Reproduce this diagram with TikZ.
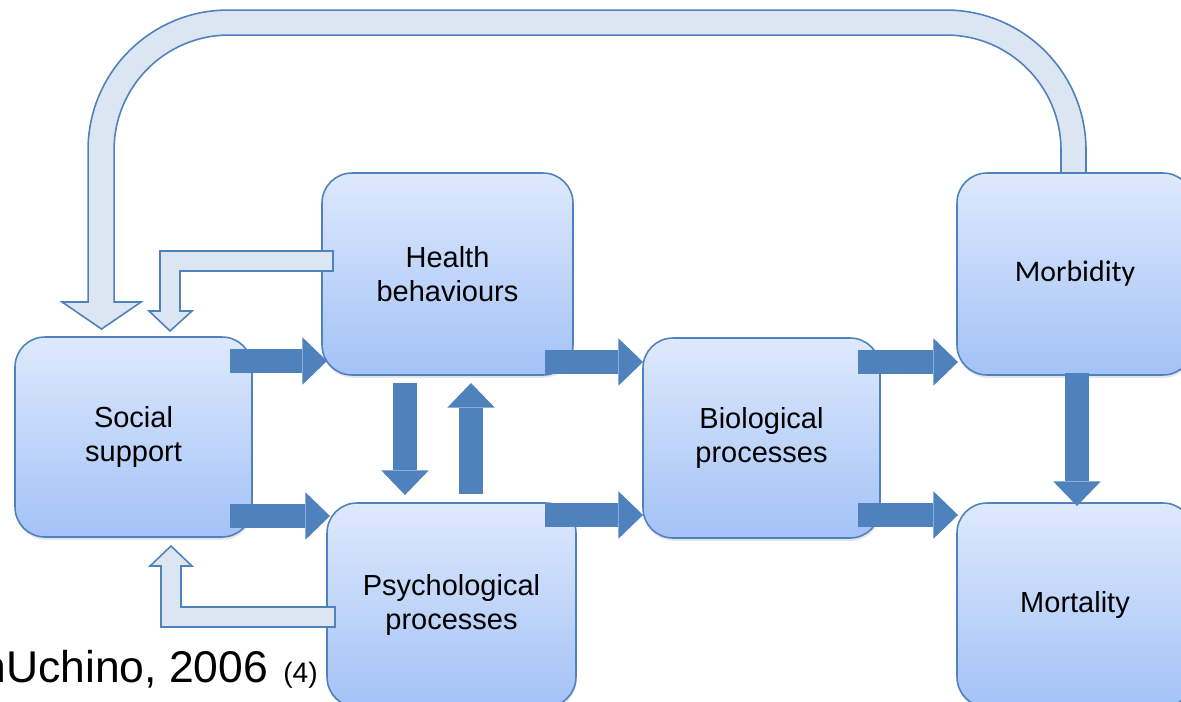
\documentclass[tikz,border=0pt]{standalone}
\usepackage{fontspec}
\setmainfont{Liberation Sans}
\newfontfamily\calibrifont{Carlito}
\usetikzlibrary{arrows.meta,calc,shadows}

\definecolor{edgeblue}{RGB}{79,129,189}
\definecolor{lightfill}{RGB}{220,230,242}
\definecolor{boxtop}{RGB}{222,233,252}
\definecolor{boxbottom}{RGB}{163,194,247}

\begin{document}
\begin{tikzpicture}[x=0.02cm,y=-0.02cm,
    box/.style={rectangle,rounded corners=17pt,draw=edgeblue,line width=0.9pt,
      top color=boxtop,bottom color=boxbottom,align=center,inner sep=0pt,outer sep=0pt,
      font=\fontsize{16.5}{19.3}\selectfont,
      drop shadow={shadow xshift=0.4pt,shadow yshift=-1.6pt,opacity=0.2}},
    solidarr/.style={draw=edgeblue,line width=13.6pt,
      -{Triangle[length=14pt,width=27pt,line width=0pt]}},
    lightarr/.style={fill=lightfill,draw=edgeblue,line width=0.9pt,line join=miter}]
      \useasboundingbox (0,0) rectangle (1181,701);
      \clip (0,0) rectangle (1181,701);

      \node[box,minimum width=4.74cm,minimum height=4cm] (social) at (133.5,437) {Social\\support};
      \node[box,minimum width=5.02cm,minimum height=4.04cm] (health) at (447.5,274) {Health\\behaviours};
      \node[box,minimum width=4.98cm,minimum height=4.08cm] (psych) at (451.5,605) {Psychological\\processes};
      \node[box,minimum width=4.74cm,minimum height=4cm] (bio) at (761.5,438) {Biological\\processes};
      \node[box,minimum width=4.72cm,minimum height=4.04cm] (morb) at (1075,274) {\calibrifont\fontsize{17}{20}\selectfont Morbidity};
      \node[box,minimum width=4.72cm,minimum height=4.08cm] (mort) at (1075,605) {Mortality};

      \node[anchor=base west,inner sep=0pt,font=\fontsize{25.3}{30}\selectfont] (cite) at (-18.8,682)
        {n\hspace{-0.28em} Uchino, 2006 {\fontsize{16}{19}\selectfont\hspace{0.1em}(4)}};

% feedback arrows back to social support
      \filldraw[lightarr] ($(morb.north)+(11,0)$) -- ++(0,-23)
        arc[start angle=0,end angle=90,radius=2.8cm] -- ++(-718,0)
        arc[start angle=90,end angle=180,radius=2.8cm] -- ++(0,152)
        -- ++(-26,0) -- ++(39.5,27) -- ++(39.5,-27) -- ++(-27,0) -- ++(0,-152)
        arc[start angle=180,end angle=90,radius=2.3cm] -- ++(717,0)
        arc[start angle=90,end angle=0,radius=2.3cm] -- ++(0,23) -- cycle;  % Morbidity to social support
      \filldraw[lightarr] ($(health.west)+(11,-23)$) -| ++(-173,60) -- ++(-11,0) -- ++(21,20)
        -- ++(22,-20) -- ++(-12,0) -- ++(0,-40) -- ++(153,0) -- cycle;  % Health behaviours to social support
      \filldraw[lightarr] ($(psych.west)+(8,22)$) -| ++(-174,-61) -- ++(-11,0) -- ++(21,-20)
        -- ++(21,20) -- ++(-11,0) -- ++(0,41) -- ++(154,0) -- cycle;  % Psychological processes to social support

% main pathways
      \draw[solidarr] ($(social.east)+(-22,-76)$) -- ($(health.west)+(5,87)$);
      \draw[solidarr] ($(social.east)+(-22,79)$) -- ($(psych.west)+(3,-89)$);
      \draw[solidarr] ($(health.east)+(-28,88)$) -- ($(bio.west)+(0,-76)$);
      \draw[solidarr] ($(psych.east)+(-31,-90)$) -- ($(bio.west)+(0,77)$);
      \draw[solidarr] ($(bio.east)+(-22,-76)$) -- ($(morb.west)+(1,88)$);
      \draw[solidarr] ($(bio.east)+(-22,77)$) -- ($(mort.west)+(1,-90)$);
      \draw[solidarr] ($(health.south)+(-42.5,8)$) -- ($(psych.north)+(-46.5,-8)$);  % behaviours to psychology
      \draw[solidarr] ($(psych.north)+(19.5,-9)$) -- ($(health.south)+(23.5,8)$);  % psychology to behaviours
      \draw[solidarr] ($(morb.south)+(2,-2)$) -- ($(mort.north)+(2,3)$);
    \end{tikzpicture}
\end{document}
